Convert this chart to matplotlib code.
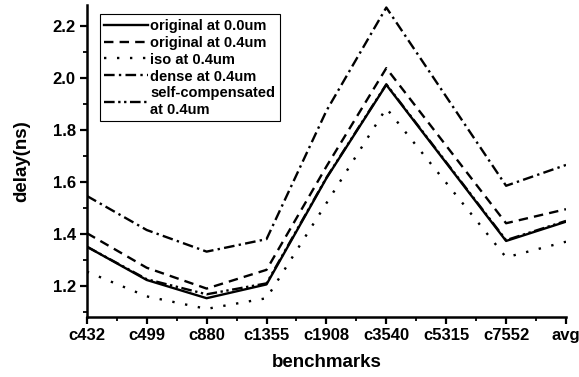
import matplotlib
matplotlib.use('Agg')
import matplotlib.pyplot as plt
import numpy as np
from matplotlib.ticker import MultipleLocator

plt.rcParams['font.family'] = ['Liberation Sans', 'DejaVu Sans']
plt.rcParams['font.weight'] = 'bold'

# benchmarks (c5315 has no data, lines jump over it)
benchmarks = ['c432', 'c499', 'c880', 'c1355', 'c1908', 'c3540', 'c5315', 'c7552', 'avg']
orig_00 = [1.351, 1.223, 1.153, 1.206, 1.614, 1.973, np.nan, 1.373, 1.447]
orig_04 = [1.403, 1.270, 1.190, 1.262, 1.659, 2.037, np.nan, 1.441, 1.495]
iso_04 = [1.255, 1.160, 1.112, 1.153, 1.518, 1.883, np.nan, 1.310, 1.370]
dense_04 = [1.546, 1.415, 1.332, 1.380, 1.873, 2.270, np.nan, 1.585, 1.665]
selfc_04 = [1.351, 1.226, 1.168, 1.210, 1.616, 1.975, np.nan, 1.376, 1.450]

labels = ['original at 0.0um', 'original at 0.4um', 'iso at 0.4um',
          'dense at 0.4um', 'self-compensated\nat 0.4um']
styles = ['-', (0, (4, 2.6)), (0, (1, 4.5)), (0, (4.5, 1.8, 1, 1.8)),
          (0, (4.5, 1.5, 1, 1.5, 1, 1.5))]

x = np.arange(len(benchmarks))

fig = plt.figure(figsize=(5.79, 3.77), dpi=100)
ax = fig.add_axes([0.150, 0.160, 0.8275, 0.827])

for vals, lab, ls in zip([orig_00, orig_04, iso_04, dense_04, selfc_04], labels, styles):
    v = np.array(vals)
    m = ~np.isnan(v)
    ax.plot(x[m], v[m], color='black', lw=1.7, linestyle=ls, label=lab)

ax.set_xlim(0, 8)
ax.set_ylim(1.082, 2.28)
ax.set_xticks(x)
ax.set_xticklabels(benchmarks)
ax.xaxis.set_minor_locator(MultipleLocator(0.5))
ax.yaxis.set_major_locator(MultipleLocator(0.2))
ax.yaxis.set_minor_locator(MultipleLocator(0.1))
ax.yaxis.set_major_formatter(matplotlib.ticker.FormatStrFormatter('%.1f'))

ax.spines['top'].set_visible(False)
ax.spines['right'].set_visible(False)
ax.spines['left'].set_linewidth(1.8)
ax.spines['bottom'].set_linewidth(1.8)
ax.tick_params(which='major', direction='out', length=5, width=1.6, labelsize=12, pad=3)
ax.tick_params(which='minor', direction='out', length=3, width=1.3)

ax.set_xlabel('benchmarks', fontsize=13.5, fontweight='bold', labelpad=8)
ax.set_ylabel('delay(ns)', fontsize=13.5, fontweight='bold', labelpad=16)

leg = ax.legend(loc='upper left', bbox_to_anchor=(0.012, 0.993), fontsize=10.5,
                handlelength=3.0, handletextpad=0.15, labelspacing=0.2,
                borderpad=0.3, fancybox=False, framealpha=1)
leg.get_frame().set_edgecolor('black')
leg.get_frame().set_linewidth(0.8)

plt.savefig('out.png', dpi=100)
